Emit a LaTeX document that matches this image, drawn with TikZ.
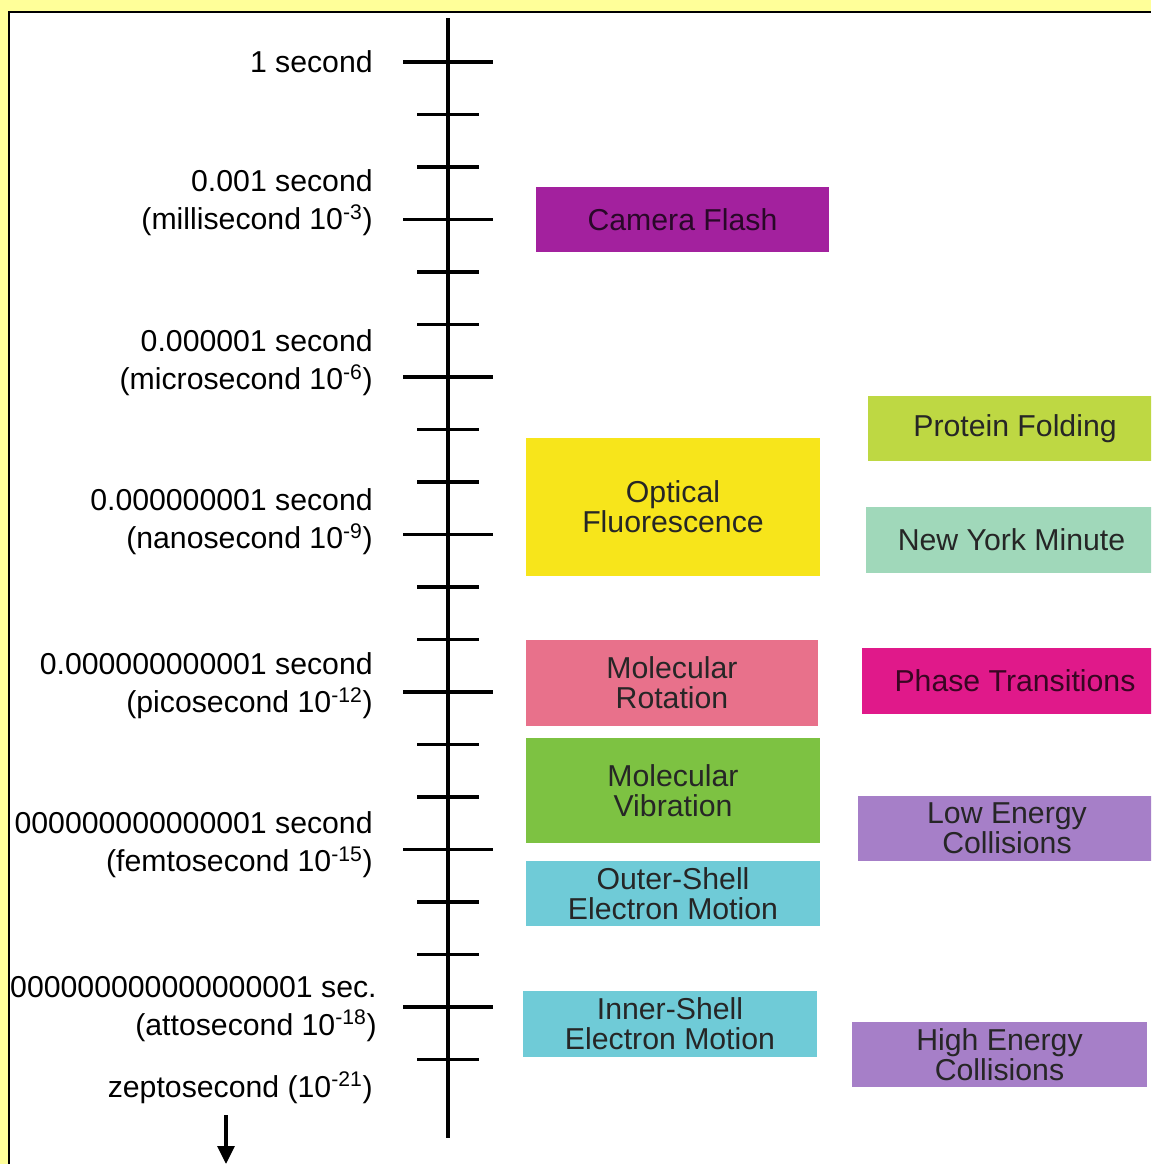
\documentclass[tikz,border=0pt]{standalone}
\usepackage{fontspec}
\setmainfont{Liberation Sans}
\usetikzlibrary{arrows.meta}

\definecolor{frameyellow}{HTML}{FFFF99}
\definecolor{flashpurple}{HTML}{A3219E}
\definecolor{opticyellow}{HTML}{F7E51B}
\definecolor{proteingreen}{HTML}{BED843}
\definecolor{minutemint}{HTML}{A0D8BA}
\definecolor{rotpink}{HTML}{E8718B}
\definecolor{phasemagenta}{HTML}{E0198A}
\definecolor{vibgreen}{HTML}{7DC242}
\definecolor{collpurple}{HTML}{A67FC8}
\definecolor{shellcyan}{HTML}{6FCBD7}

\begin{document}
\begin{tikzpicture}[x=0.025cm, y=-0.025cm]
\tikzstyle{every node}=[font=\fontsize{21.5}{27}\selectfont, inner sep=0pt]
\tikzstyle{timelabel}=[anchor=east, align=right]
\tikzstyle{event}=[minimum width=7.35cm, minimum height=1.625cm, align=center,
  text=black!85, font=\fontsize{21.5}{21.5}\selectfont]

\useasboundingbox (0, 0) rectangle (1151, 1164);
\clip (0, 0) rectangle (1151, 1164);
\fill [frameyellow] (0, 0) rectangle (1151, 1164); % Rahmen
\fill [white] (9, 12) rectangle (1151, 1164);
\draw [line width=1.4pt] (9, 1164) -- (9, 12) -- (1151, 12);

\coordinate (top) at (448, 18);
\coordinate (bottom) at (448, 1138);
\draw [line width=2.5pt] (top) -- (bottom); % Zeitachse
\foreach \k in {0,...,6}
  \draw [line width=2.4pt] (403, 62+157.5*\k) -- (493, 62+157.5*\k);
\foreach \j in {1,2,4,5,7,8,10,11,13,14,16,17,19}
  \draw [line width=2.4pt] (417, 62+52.5*\j) -- (479, 62+52.5*\j);

\node (sec) [timelabel] at (373, 62) {1 second};
\node (milli) [timelabel] at (373, 203) {0.001 second\\(millisecond 10\textsuperscript{-3})};
\node (micro) [timelabel] at (373, 363) {0.000001 second\\(microsecond 10\textsuperscript{-6})};
\node (nano) [timelabel] at (373, 522) {0.000000001 second\\(nanosecond 10\textsuperscript{-9})};
\node (pico) [timelabel] at (373, 686) {0.000000000001 second\\(picosecond 10\textsuperscript{-12})};
\node (femto) [timelabel] at (373, 845) {000000000000001 second\\(femtosecond 10\textsuperscript{-15})};
\node (atto) [timelabel] at (377, 1009) {000000000000000001 sec.\\(attosecond 10\textsuperscript{-18})};
\node (zepto) [timelabel] at (373, 1088) {zeptosecond (10\textsuperscript{-21})};

\coordinate (down) at (226, 1115);
\coordinate (downend) at (226, 1164);
\draw [-{Triangle[length=0.45cm, width=0.42cm]}, line width=2.6pt] (down) -- (downend);

% Ereignisse links
\node (flash) [event, fill=flashpurple, minimum width=7.325cm, text=black!75!flashpurple] at (682.5, 219.5) {Camera Flash};
\node (optical) [event, fill=opticyellow, minimum height=3.45cm] at (673, 507) {Optical\\Fluorescence};
\node (rotation) [event, fill=rotpink, minimum width=7.3cm, minimum height=2.15cm] at (672, 683) {Molecular\\Rotation};
\node (vibration) [event, fill=vibgreen, minimum height=2.625cm] at (673, 790.5) {Molecular\\Vibration};
\node (outer) [event, fill=shellcyan] at (673, 893.5) {Outer-Shell\\Electron Motion};
\node (inner) [event, fill=shellcyan, minimum height=1.65cm] at (670, 1024) {Inner-Shell\\Electron Motion};

% Ereignisse rechts
\node (protein) [event, fill=proteingreen] at (1015, 428.5) {Protein Folding};
\node (nym) [event, fill=minutemint, minimum width=7.25cm, minimum height=1.65cm] at (1011.5, 540) {New York Minute};
\node (phase) [event, fill=phasemagenta, minimum width=7.65cm, minimum height=1.65cm, text=black!75!phasemagenta] at (1015, 681) {Phase Transitions};
\node (lowcoll) [event, fill=collpurple, minimum width=7.45cm] at (1007, 828.5) {Low Energy\\Collisions};
\node (highcoll) [event, fill=collpurple, minimum width=7.375cm] at (999.5, 1054.5) {High Energy\\Collisions};

\end{tikzpicture}
\end{document}
